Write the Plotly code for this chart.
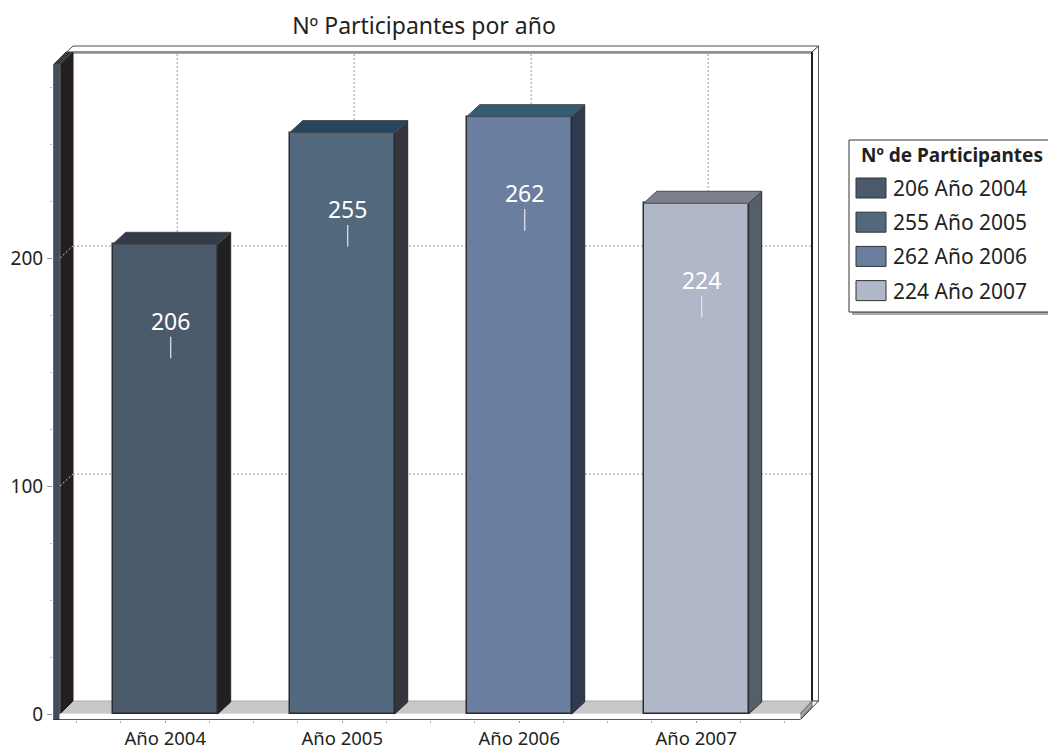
import plotly.graph_objects as go

categories = ["Año 2004", "Año 2005", "Año 2006", "Año 2007"]
values = [206, 255, 262, 224]
front_colors = ["#4b5a6b", "#52687d", "#6a7f9f", "#b0b7c8"]
side_colors = ["#231f20", "#35363c", "#2f3a50", "#555e6b"]
top_colors = ["#333a48", "#26455e", "#335c75", "#7f808d"]
y_ticks = [0, 100, 200]
legend_title = "Nº de Participantes"
chart_title = "Nº Participantes por año"

FONT = "Noto Sans"
TXT = "#231f20"
L, R, T, B = 53, 820, 40, 720
PX_X = 177.0
PX_Y = 2.28
X0_PX = 165.2
Y0_PX = 714.0


def dx(px):
    return (px - X0_PX) / PX_X


def dy(px):
    return (Y0_PX - px) / PX_Y


def px_(px):
    return (px - L) / (R - L)


def py_(px):
    return (B - px) / (B - T)


DX = 13 / PX_X
DY = 12 / PX_Y
BAR_W = 105 / PX_X

shapes = []


def poly(pts, fill, line=None, width=1, layer="below"):
    path = "M " + " L ".join(f"{dx(a)},{dy(b)}" for a, b in pts) + " Z"
    shapes.append(dict(type="path", path=path, xref="x", yref="y", fillcolor=fill,
                       line=dict(color=line or fill, width=width), layer=layer))


def seg(x0, y0, x1, y1, color, width=1, dash="solid", layer="below"):
    shapes.append(dict(type="line", xref="x", yref="y", x0=dx(x0), y0=dy(y0), x1=dx(x1), y1=dy(y1),
                       line=dict(color=color, width=width, dash=dash), layer=layer))


# cabinet: back wall, floor, side walls
poly([(73, 52), (812, 52), (812, 701), (73, 701)], "#ffffff")
seg(73, 46, 818.5, 46, "#8a8a8a", 1.5)
seg(73, 52, 812, 52, "#231f20", 1.2)
seg(73, 53.5, 812, 53.5, "#aaaaaa", 1)
seg(812, 52, 812, 701, "#231f20", 2)
seg(818.5, 46, 818.5, 701, "#555555", 1)
seg(812, 52, 818.5, 46, "#333333", 1)
poly([(60, 714), (800, 714), (812, 701), (73, 701)], "#c8c8c8", "#aaaaaa", 1)
poly([(800, 714), (800, 720), (812, 707), (812, 701)], "#a0a0a0", "#666666", 1)
seg(812, 701, 818.5, 701, "#333333", 1)
seg(818.5, 701, 800, 720, "#333333", 1)
poly([(60, 65), (73, 52), (73, 701), (60, 714)], "#231f20")
poly([(53, 65), (60, 65), (73, 52), (66, 52)], "#3a3a3f")
seg(53, 65, 73, 46, "#444444", 1)
poly([(53.5, 65), (60, 65), (60, 720), (53.5, 720)], "#3f4f5b", "#666666", 1)
poly([(60, 714), (800, 714), (800, 720), (60, 720)], "#ffffff")
seg(53, 720, 800, 720, "#231f20", 1.5)

# grid on back wall, offset by the depth
for i in range(len(categories)):
    xg = X0_PX + i * PX_X + 12
    seg(xg, 54, xg, 701, "#9a9a9a", 1, "2px,2px")
for t in y_ticks[1:]:
    yb = Y0_PX - t * PX_Y
    seg(73, yb - 12, 812, yb - 12, "#9a9a9a", 1, "2px,2px")
    seg(60, yb, 73, yb - 12, "#cfcfcf", 1, "2px,2px")

traces = []
for i, (cat, val) in enumerate(zip(categories, values)):
    traces.append(go.Bar(x=[i], y=[val], width=BAR_W, marker=dict(color=front_colors[i],
                         line=dict(color="#2b2b30", width=1.5)), name=f"{val} {cat}", showlegend=False,
                         hovertemplate=f"{cat}: {val}<extra></extra>"))
for i, val in enumerate(values):
    xl, xr = i - BAR_W / 2, i + BAR_W / 2
    traces.append(go.Scatter(x=[xr, xr + DX, xr + DX, xr, xr], y=[0, DY, val + DY, val, 0], mode="lines",
                             fill="toself", fillcolor=side_colors[i], line=dict(color="#2b2b30", width=1),
                             showlegend=False, hoverinfo="skip"))
    traces.append(go.Scatter(x=[xl, xl + DX, xr + DX, xr, xl], y=[val, val + DY, val + DY, val, val], mode="lines",
                             fill="toself", fillcolor=top_colors[i], line=dict(color="#4a4a50", width=1),
                             showlegend=False, hoverinfo="skip"))
    xc = i + DX / 2 - 1 / PX_X
    traces.append(go.Scatter(x=[xc, xc], y=[val - 50, val - 40.5], mode="lines",
                             line=dict(color="#e6e8ee", width=1.2), showlegend=False, hoverinfo="skip"))
    traces.append(go.Scatter(x=[xc], y=[val - 40], mode="text", text=[str(val)], textposition="top center",
                             textfont=dict(family=FONT, size=23, color="#ffffff"),
                             showlegend=False, hoverinfo="skip"))

# legend box
annotations = []
LX0, LY0, LX1, LY1 = 849, 140, 1060, 312
shapes.append(dict(type="rect", xref="paper", yref="paper", x0=px_(LX0 + 3), y0=py_(LY1 + 3), x1=px_(LX1 + 3), y1=py_(LY0 + 3),
                   fillcolor="#a8a8a8", line=dict(width=0), layer="above"))
shapes.append(dict(type="rect", xref="paper", yref="paper", x0=px_(LX0), y0=py_(LY1), x1=px_(LX1), y1=py_(LY0),
                   fillcolor="#ffffff", line=dict(color="#333333", width=1), layer="above"))
annotations.append(dict(xref="paper", yref="paper", x=px_(859), y=py_(155.5), xanchor="left", yanchor="middle",
                        text=f"<b>{legend_title}</b>", showarrow=False, font=dict(family=FONT, size=19, color=TXT)))
for i, (cat, val) in enumerate(zip(categories, values)):
    yc = 188 + i * 34.2
    shapes.append(dict(type="rect", xref="paper", yref="paper", x0=px_(856), x1=px_(886), y0=py_(yc - 10), y1=py_(yc + 10),
                       fillcolor=front_colors[i], line=dict(color="#333333", width=1), layer="above"))
    annotations.append(dict(xref="paper", yref="paper", x=px_(891), y=py_(yc), xanchor="left", yanchor="middle",
                            text=f"{val} {cat}", showarrow=False, font=dict(family=FONT, size=21, color=TXT)))

fig = go.Figure(traces)
fig.update_layout(
    width=1048, height=751, autosize=False,
    margin=dict(l=L, r=1048 - R, t=T, b=751 - B, pad=0),
    paper_bgcolor="#ffffff", plot_bgcolor="rgba(0,0,0,0)",
    bargap=0, showlegend=False, shapes=shapes, annotations=annotations,
    title=dict(text=chart_title, x=424 / 1048, xanchor="center", y=1 - 26 / 751, yanchor="middle",
               font=dict(family=FONT, size=23, color=TXT)),
    xaxis=dict(range=[dx(L), dx(R)], tickmode="array", tickvals=list(range(len(categories))), ticktext=categories,
               automargin=False, showgrid=False, zeroline=False, showline=False, ticks="outside", ticklen=2, tickcolor="#999999",
               tickfont=dict(family=FONT, size=18.5, color=TXT),
               minor=dict(tickmode="linear", tick0=0, dtick=0.25, ticks="outside", ticklen=2, tickcolor="#aaaaaa", showgrid=False)),
    yaxis=dict(range=[dy(B), dy(T)], tickmode="array", tickvals=y_ticks, automargin=False, showgrid=False, zeroline=False, showline=False,
               ticks="outside", ticklen=5, tickcolor="#999999", ticklabelstandoff=0, tickfont=dict(family=FONT, size=19, color=TXT),
               minor=dict(tickmode="linear", tick0=0, dtick=25, ticks="outside", ticklen=2, tickcolor="#bbbbbb", showgrid=False)),
)
fig.write_html("out.html", post_script="document.body.style.margin='0';", config={"displayModeBar": False})
